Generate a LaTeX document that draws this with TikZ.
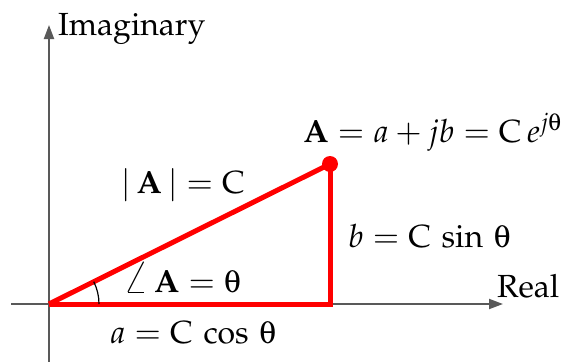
\documentclass[tikz,border=0pt]{standalone}
\usepackage[T1]{fontenc}
\usepackage{mathpazo}
\usepackage[Symbol]{upgreek}
\usetikzlibrary{arrows.meta}
\definecolor{axisgray}{HTML}{595959}
\begin{document}
\begin{tikzpicture}[x=1pt,y=-1pt,
  lbl/.style={inner sep=0pt, anchor=base west, font=\fontsize{32}{38}\selectfont},
  axis/.style={draw=axisgray, line width=2pt, -{Triangle[length=14pt,width=10pt]}},
  side/.style={draw=red, line width=5pt}]
\useasboundingbox (0,0) rectangle (574,362);
\coordinate (O) at (49,304);
\coordinate (xs) at (11,304);
\coordinate (xe) at (503,304);
\coordinate (ys) at (49,362);
\coordinate (ye) at (49,25);
\draw[axis] (xs) -- (xe);
\draw[axis] (ys) -- (ye);
\coordinate (B) at (330,304);
\coordinate (P) at (330,164);
\draw[side, line join=miter] (O) -- (B) -- (P);
\draw[side] (P) -- (O);
\fill[red] (P) circle (8);
\draw[line width=1.2pt] ([shift={(0:50)}]O) arc[start angle=0, end angle=-26.48, radius=50];
\node[lbl] (imag) at (58,35) {Imaginary};
\node[lbl] (real) at (497,297) {Real};
\node[lbl] (Aeq) at (303,142) {$\mathbf{A} = a + jb = \mathrm{C}\,e^{j\uptheta}$};
\node[lbl] (mag) at (121,193) {$|\,\mathbf{A}\,| = \mathrm{C}$};
\node[lbl] (bsin) at (348,247) {$b = \mathrm{C}\,\sin\,\uptheta$};
\node[lbl] (ang) at (123,292) {$\mathord{\scalebox{1.3}{$\angle$}}\mkern3mu\mathbf{A} = \uptheta$};
\node[lbl] (acos) at (110,343) {$a = \mathrm{C}\,\cos\,\uptheta$};
\end{tikzpicture}
\end{document}
